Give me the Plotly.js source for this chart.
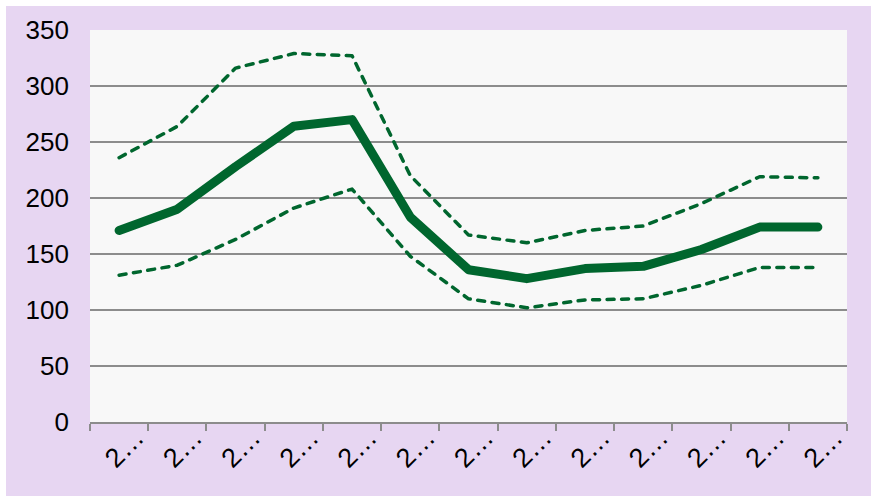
<!DOCTYPE html>
<html>
<head>
<meta charset="utf-8">
<script src="https://cdn.plot.ly/plotly-3.0.1.min.js"></script>
<style>
html,body{margin:0;padding:0;background:#ffffff;}
#chart{position:absolute;left:6px;top:6px;width:865px;height:490px;}
</style>
</head>
<body>
<div id="chart"></div>
<script>
var categories = ["2001","2002","2003","2004","2005","2006","2007","2008","2009","2010","2011","2012","2013"];
var tickLabels = ["2…","2…","2…","2…","2…","2…","2…","2…","2…","2…","2…","2…","2…"];
var mainValues = [171, 190, 228, 264, 270, 183, 136, 128, 137, 139, 154, 174, 174];
var upperValues = [236, 264, 316, 329, 327, 220, 167, 160, 171, 175, 195, 219, 218];
var lowerValues = [131, 140, 163, 191, 208, 148, 110, 102, 109, 110, 122, 138, 138];
var yTicks = [0, 50, 100, 150, 200, 250, 300, 350];

var green = "#00662e";
var traces = [
  {x: categories, y: upperValues, type: "scatter", mode: "lines", line: {color: green, width: 3.5, dash: "7px,7.5px"}, hoverinfo: "y"},
  {x: categories, y: lowerValues, type: "scatter", mode: "lines", line: {color: green, width: 3.5, dash: "7px,7.5px"}, hoverinfo: "y"},
  {x: categories, y: mainValues, type: "scatter", mode: "lines", line: {color: green, width: 9}, hoverinfo: "y"}
];
var layout = {
  width: 865, height: 490,
  paper_bgcolor: "#e7d6f2",
  plot_bgcolor: "#f8f8f8",
  showlegend: false,
  margin: {l: 84, r: 24, t: 24, b: 74},
  font: {family: "Liberation Sans, Arial, sans-serif", color: "#000000"},
  xaxis: {
    type: "category",
    tickmode: "array", tickvals: categories, ticktext: tickLabels,
    tickangle: -45,
    tickson: "boundaries",
    ticks: "outside", ticklen: 7, tickwidth: 2, tickcolor: "#8c8c8c",
    showline: true, linecolor: "#8c8c8c", linewidth: 2,
    showgrid: false, zeroline: false,
    ticklabelshift: 17, ticklabelstandoff: -13,
    tickfont: {size: 27, family: "Liberation Sans, Arial, sans-serif"},
    range: [-0.5, 12.5]
  },
  yaxis: {
    range: [0, 350],
    tickmode: "array", tickvals: yTicks,
    showgrid: true, gridcolor: "#8c8c8c", gridwidth: 2,
    zeroline: false, showline: false,
    ticks: "", ticklabelstandoff: 20,
    tickfont: {size: 26, family: "Liberation Sans, Arial, sans-serif"}
  }
};
Plotly.newPlot("chart", traces, layout, {displayModeBar: false, staticPlot: true}).then(function (gd) {
  gd.querySelectorAll("path.js-line").forEach(function (p) {
    p.style.strokeLinecap = "round";
    p.style.strokeLinejoin = "round";
  });
});
</script>
</body>
</html>
